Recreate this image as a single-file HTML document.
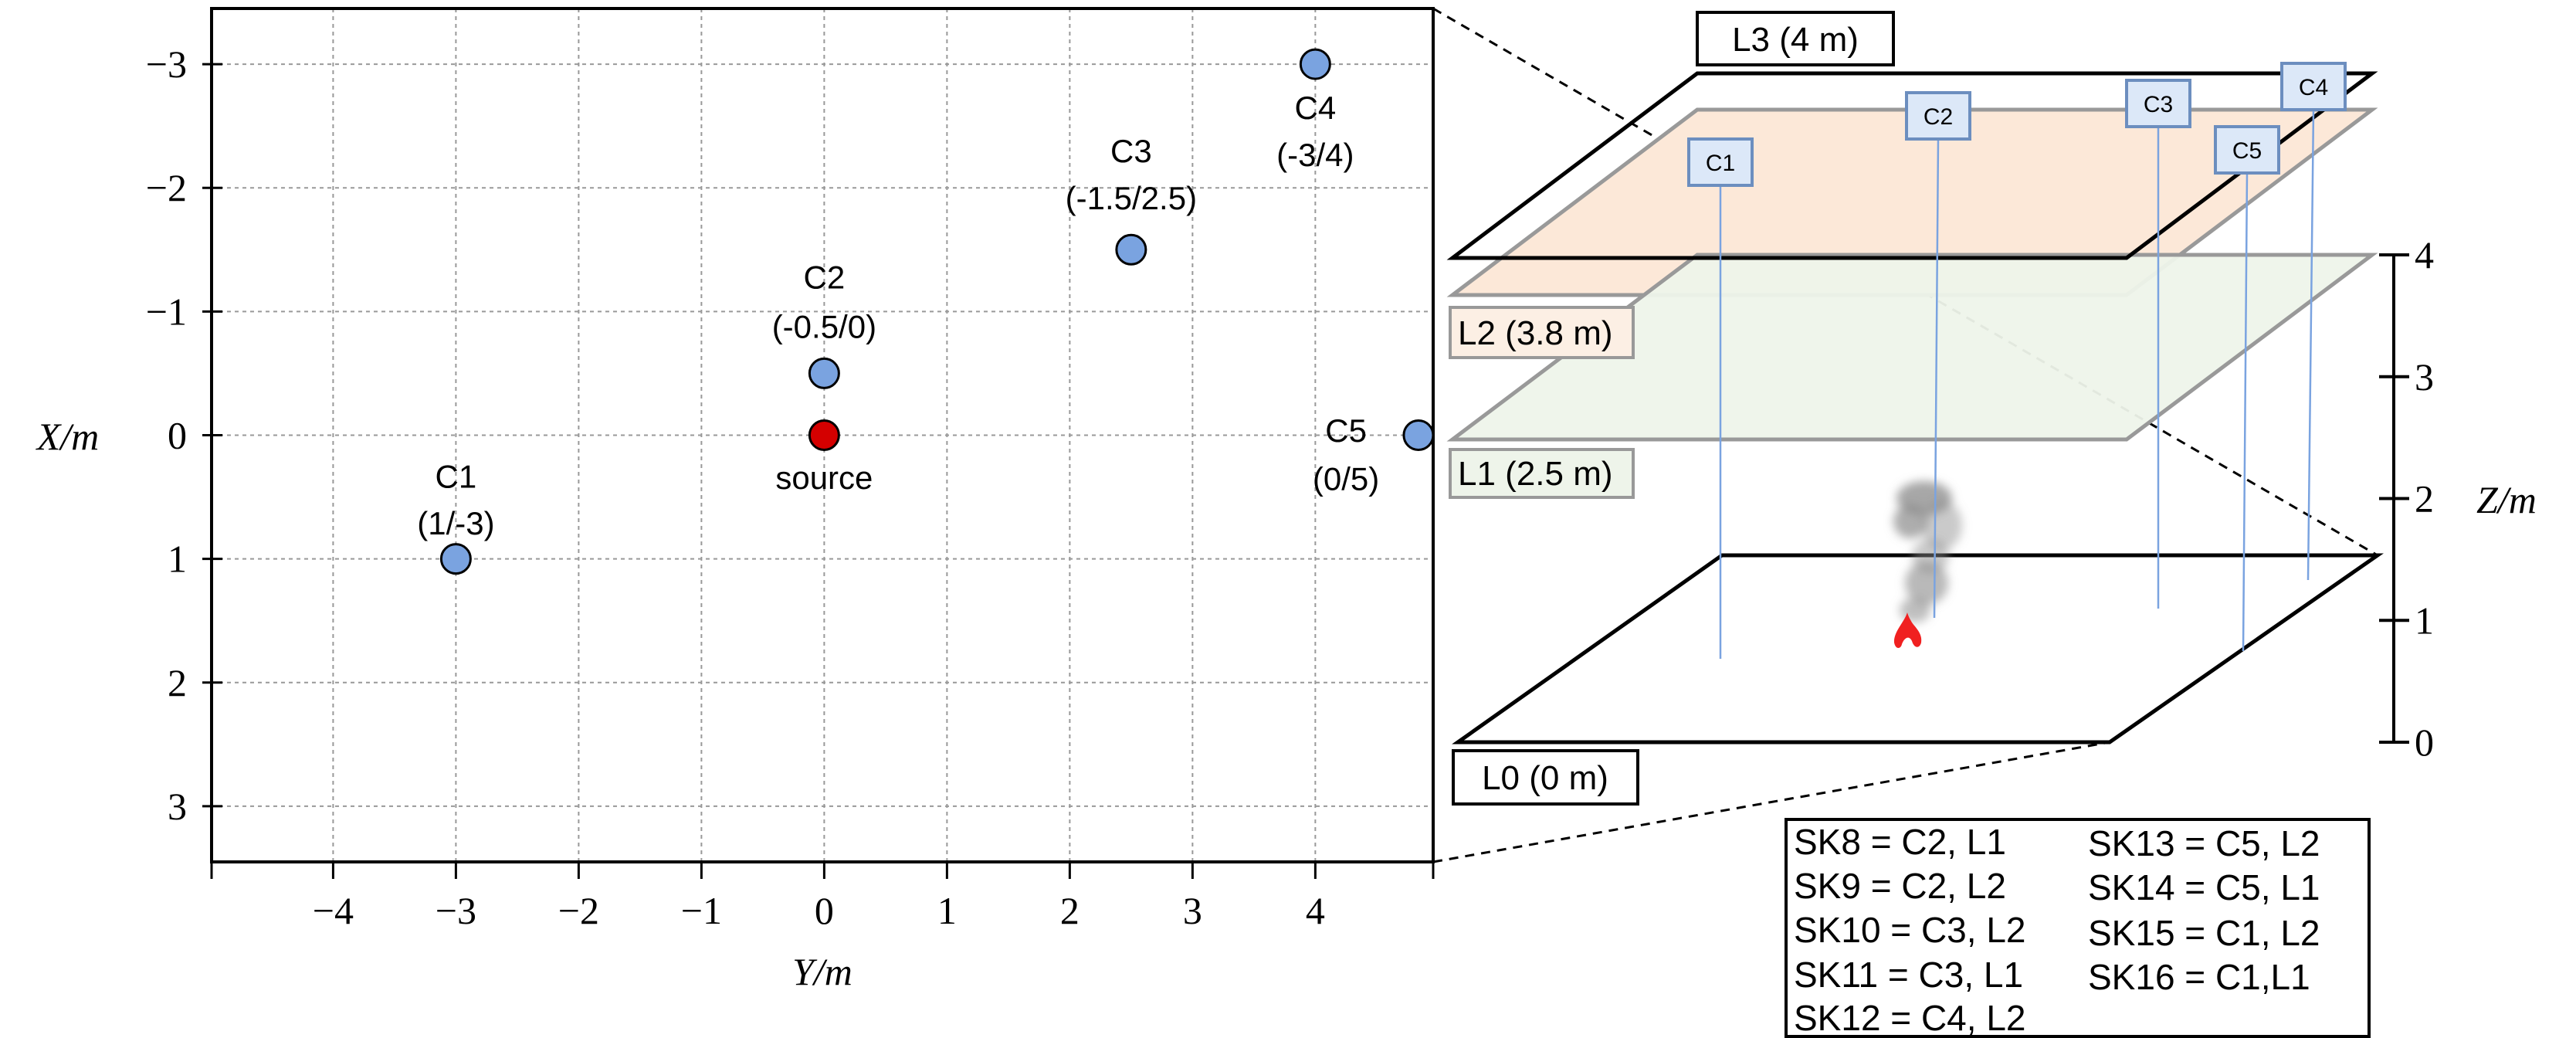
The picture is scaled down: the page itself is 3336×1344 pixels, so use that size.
<!DOCTYPE html>
<html><head><meta charset="utf-8"><style>
body{margin:0;background:#fff}
svg{display:block}
.tk{font-family:"Liberation Serif",serif;font-size:50px;fill:#000}
.lb{font-family:"Liberation Sans",sans-serif;font-size:42px;fill:#000}
.ll{font-family:"Liberation Sans",sans-serif;font-size:44px;fill:#000}
.sk{font-family:"Liberation Sans",sans-serif;font-size:46px;fill:#000}
.sn{font-family:"Liberation Sans",sans-serif;font-size:30px;fill:#000}
</style></head><body>
<svg id="fig" width="3336" height="1344" viewBox="0 0 3336 1344" xmlns="http://www.w3.org/2000/svg">
<defs><filter id="blur" x="-50%" y="-50%" width="200%" height="200%"><feGaussianBlur stdDeviation="6"/></filter></defs>
<g id="plot"></g>
<g id="right">
  <line x1="1856" y1="11" x2="3079" y2="719" stroke="#000" stroke-width="3" stroke-dasharray="12,9"/>
  <line x1="1856" y1="1116" x2="2732" y2="961" stroke="#000" stroke-width="3" stroke-dasharray="12,9"/>
  <polygon points="2198,142 3072,142 2754,382 1881,382" fill="#fce8d8" stroke="#999" stroke-width="5"/>
  <polygon points="2198,330 3072,330 2754,569 1881,569" fill="#eef4ea" fill-opacity="0.95" stroke="#999" stroke-width="5"/>
  <polygon points="2198,95 3072,95 2754,334 1881,334" fill="none" stroke="#000" stroke-width="5"/>
  <polygon points="2230,719 3079,719 2732,961 1888,961" fill="none" stroke="#000" stroke-width="5"/>
  <g filter="url(#blur)" fill="#8a8a8a">
    <ellipse cx="2492" cy="645" rx="36" ry="22" opacity="0.75"/>
    <ellipse cx="2474" cy="675" rx="22" ry="22" opacity="0.7"/>
    <ellipse cx="2515" cy="680" rx="26" ry="32" opacity="0.45"/>
    <ellipse cx="2500" cy="720" rx="24" ry="22" opacity="0.45"/>
    <ellipse cx="2495" cy="755" rx="28" ry="28" opacity="0.6"/>
    <ellipse cx="2480" cy="790" rx="20" ry="16" opacity="0.55"/>
  </g>
  <path d="M2470,793 C2466,806 2452,818 2453,832 C2455,842 2462,840 2463,834 C2466,826 2472,822 2476,830 C2479,840 2486,840 2488,832 C2490,820 2480,812 2476,806 C2473,801 2471,797 2470,793Z" fill="#f02020"/>
  <g id="sensors"></g>
  <g>
    <rect x="2198" y="16" width="254" height="68" fill="#fff" stroke="#000" stroke-width="4"/>
    <text class="ll" x="2325" y="66" text-anchor="middle">L3 (4 m)</text>
    <rect x="1878" y="398" width="237" height="65" fill="#fcefe4" stroke="#999" stroke-width="4"/>
    <text class="ll" x="1888" y="446">L2 (3.8 m)</text>
    <rect x="1878" y="582" width="237" height="62" fill="#eef4ea" stroke="#999" stroke-width="4"/>
    <text class="ll" x="1888" y="628">L1 (2.5 m)</text>
    <rect x="1882" y="972" width="239" height="69" fill="#fff" stroke="#000" stroke-width="4"/>
    <text class="ll" x="2001" y="1022" text-anchor="middle">L0 (0 m)</text>
  </g>
  <g id="zaxis"></g>
  <text class="tk" x="3207" y="664" font-style="italic" font-size="54">Z/m</text>
  <g>
    <rect x="2313" y="1061" width="755" height="281" fill="#fff" stroke="#000" stroke-width="4"/>
    <text class="sk" x="2323" y="1106">SK8 = C2, L1</text>
    <text class="sk" x="2323" y="1163">SK9 = C2, L2</text>
    <text class="sk" x="2323" y="1220">SK10 = C3, L2</text>
    <text class="sk" x="2323" y="1278">SK11 = C3, L1</text>
    <text class="sk" x="2323" y="1334">SK12 = C4, L2</text>
    <text class="sk" x="2704" y="1108">SK13 = C5, L2</text>
    <text class="sk" x="2704" y="1165">SK14 = C5, L1</text>
    <text class="sk" x="2704" y="1224">SK15 = C1, L2</text>
    <text class="sk" x="2704" y="1281">SK16 = C1,L1</text>
  </g>
</g>
</svg>
<script>
const NS="http://www.w3.org/2000/svg";
// left plot data
const pointNames=["C1","C2","C3","C4","C5","source"];
const pointY=[-3,0,2.5,4,4.84,0];
const pointX=[1,-0.5,-1.5,-3,0,0];
const labelLine1=["C1","C2","C3","C4","C5","source"];
const labelLine2=["(1/-3)","(-0.5/0)","(-1.5/2.5)","(-3/4)","(0/5)",""];
const labelY=[-3,0,2.5,4,4.25,0];
const labelX1=[0.33,-1.28,-2.3,-2.65,-0.04,0.34];
const labelX2=[0.71,-0.88,-1.92,-2.27,0.35,0];
const xTicks=[-4,-3,-2,-1,0,1,2,3,4];
const yTicks=[-3,-2,-1,0,1,2,3];
const zTicks=[0,1,2,3,4];
// sensor boxes (right diagram)
const sensorNames=["C1","C2","C3","C4","C5"];

const L=274,R=1856,T=11,B=1116, xmin=-4.99,xmax=4.96,ymin=-3.45,ymax=3.45;
const sx=v=>L+(v-xmin)/(xmax-xmin)*(R-L);
const sy=v=>T+(v-ymin)/(ymax-ymin)*(B-T);
function mk(tag,attrs,parent,txt){const e=document.createElementNS(NS,tag);for(const k in attrs)e.setAttribute(k,attrs[k]);if(txt!==undefined)e.textContent=txt;parent.appendChild(e);return e;}
const g=document.getElementById('plot');
xTicks.forEach(t=>{const l=mk('line',{x1:sx(t),x2:sx(t),y1:T,y2:B,stroke:'#999','stroke-width':2,'stroke-dasharray':'5,5'},g);});
yTicks.forEach(t=>{const l=mk('line',{x1:L,x2:R,y1:sy(t),y2:sy(t),stroke:'#999','stroke-width':2,'stroke-dasharray':'5,5'},g);});
const fr=mk('rect',{x:L,y:T,width:R-L,height:B-T,fill:'none',stroke:'#000','stroke-width':4},g);


xTicks.forEach(t=>{const l=mk('line',{x1:sx(t),x2:sx(t),y1:B,y2:B+22,stroke:'#000','stroke-width':3},g);
 const tx=mk('text',{class:'tk',x:sx(t),y:1196,'text-anchor':'middle'},g,t<0?'\u2212'+(-t):String(t));});
[L,R].forEach(px=>{const l=mk('line',{x1:px,x2:px,y1:B,y2:B+22,stroke:'#000','stroke-width':3},g);});
yTicks.forEach(t=>{const l=mk('line',{x1:L-12,x2:L+14,y1:sy(t),y2:sy(t),stroke:'#000','stroke-width':3},g);
 const tx=mk('text',{class:'tk',x:L-32,y:sy(t)+17,'text-anchor':'end'},g,t<0?'\u2212'+(-t):String(t));});
const xt=mk('text',{class:'tk','font-style':'italic','font-size':56,x:1065,y:1275,'text-anchor':'middle'},g,'Y/m');


const yt=mk('text',{class:'tk','font-style':'italic','font-size':56,x:88,y:582,'text-anchor':'middle'},g,'X/m');


pointNames.forEach((n,i)=>{
 const c=mk('circle',{cx:sx(pointY[i]),cy:sy(pointX[i]),r:19,fill:n==='source'?'#d40000':'#7aa3e0',stroke:'#000','stroke-width':3},g);
 
 
 const t1=mk('text',{class:'lb',x:sx(labelY[i]),y:sy(labelX1[i])+15,'text-anchor':'middle'},g,labelLine1[i]);
 
 
 if(labelLine2[i]){const t2=mk('text',{class:'lb',x:sx(labelY[i]),y:sy(labelX2[i])+15,'text-anchor':'middle'},g,labelLine2[i]);
 
 }
});
// sensors right
const sBox=[[2187,180],[2469,120],[2754,104],[2955,82],[2869,164]];
const sLine=[[2228,853,2228],[2510,800,2505],[2795,788,2795],[2996,751,2989],[2910,843,2905]];
const sg=document.getElementById('sensors');
sensorNames.forEach((n,i)=>{
 const ln=mk('line',{x1:sLine[i][0],y1:sBox[i][1]+60,x2:sLine[i][2],y2:sLine[i][1],stroke:'#7aa3e0','stroke-width':2.5},sg);
 
 
 const r=mk('rect',{x:sBox[i][0],y:sBox[i][1],width:82,height:60,fill:'#dce8f8',stroke:'#6c8ebf','stroke-width':4},sg);
 
 
 const t=mk('text',{class:'sn',x:sBox[i][0]+41,y:sBox[i][1]+41,'text-anchor':'middle'},sg,n);
 
 
});
const za=document.getElementById('zaxis');
const zy=v=>961-v*(961-330)/4;
mk('line',{x1:3100,x2:3100,y1:zy(4),y2:zy(0),stroke:'#000','stroke-width':4},za);
zTicks.forEach(t=>{const l=mk('line',{x1:3081,x2:3120,y1:zy(t),y2:zy(t),stroke:'#000','stroke-width':4},za);
 const tx=mk('text',{class:'tk',x:3127,y:zy(t)+17},za,String(t));});
</script>
</body></html>
